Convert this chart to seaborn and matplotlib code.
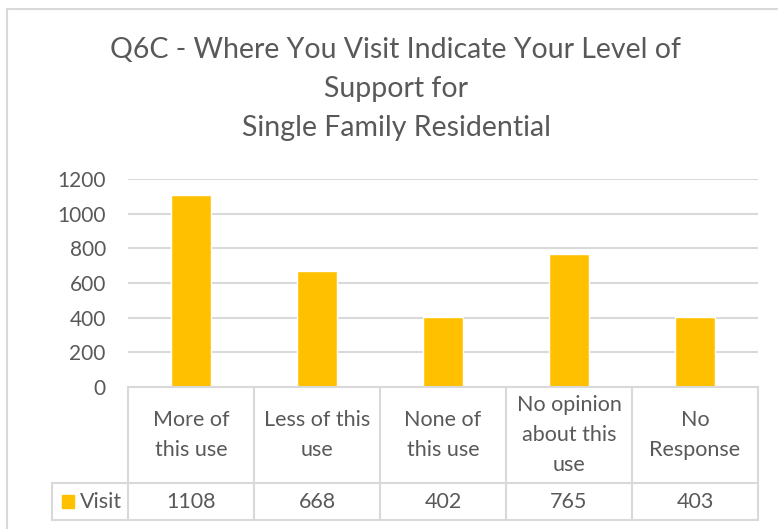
import matplotlib.pyplot as plt
import seaborn as sns
import pandas as pd
from matplotlib.lines import Line2D
from matplotlib.patches import Rectangle

categories = ['More of\nthis use', 'Less of this\nuse', 'None of\nthis use',
              'No opinion\nabout this\nuse', 'No\nResponse']
visit = [1108, 668, 402, 765, 403]
series_name = 'Visit'
yticks = [0, 200, 400, 600, 800, 1000, 1200]

BAR = '#FFC000'
GRID = '#D9D9D9'
TEXT = '#595959'
W, H = 778, 529

sns.set_theme(style='white')
plt.rcParams['font.family'] = ['Lato', 'DejaVu Sans']

df = pd.DataFrame({'cat': categories, 'value': visit})

fig = plt.figure(figsize=(W / 100, H / 100), dpi=100)
ax = fig.add_axes([128 / W, 1 - 387 / H, 630 / W, 208 / H])
sns.barplot(data=df, x='cat', y='value', color=BAR, width=0.32,
            saturation=1, ax=ax)
ax.set_ylim(0, 1200)
ax.set_xlim(-0.5, len(categories) - 0.5)
ax.set_yticks(yticks)
ax.set_yticklabels([str(t) for t in yticks], fontsize=15, color=TEXT)
ax.tick_params(axis='y', length=0, pad=16)
ax.set_xticks([])
ax.set_xlabel('')
ax.set_ylabel('')
ax.yaxis.grid(True, color=GRID, linewidth=1.5)
ax.set_axisbelow(True)
for s in ax.spines.values():
    s.set_visible(False)

# data table below the plot, in axes-x / figure-y coordinates
trans = ax.get_xaxis_transform()
def fy(py):
    # pixel row -> axes y
    return (387 - py) / 208

lw = 1.5
n = len(categories)
for i in range(n + 1):
    x = i - 0.5
    ax.add_line(Line2D([x, x], [fy(387), fy(520)], transform=trans,
                       color=GRID, lw=lw, clip_on=False))
ax.add_line(Line2D([-0.5, n - 0.5], [fy(387), fy(387)], transform=trans,
                   color=GRID, lw=lw, clip_on=False))
# left edge of legend cell at pixel x=52
x_left = -0.5 - (128 - 52) / 126
for py in (483, 520):
    ax.add_line(Line2D([x_left, n - 0.5], [fy(py), fy(py)], transform=trans,
                       color=GRID, lw=lw, clip_on=False))
ax.add_line(Line2D([x_left, x_left], [fy(483), fy(520)], transform=trans,
                   color=GRID, lw=lw, clip_on=False))

for i, (c, v) in enumerate(zip(categories, visit)):
    ax.text(i, fy(435), c, transform=trans, ha='center', va='center',
            fontsize=15.5, color=TEXT, linespacing=1.6, clip_on=False)
    ax.text(i, fy(502), str(v), transform=trans, ha='center', va='center',
            fontsize=15.5, color=TEXT, clip_on=False)

# legend key + series name
key_x = -0.5 - (128 - 62) / 126
ax.add_patch(Rectangle((key_x, fy(508)), 12 / 126, 13 / 208, transform=trans,
                       color=BAR, clip_on=False))
ax.text(-0.5 - (128 - 80) / 126, fy(502), series_name, transform=trans,
        ha='left', va='center', fontsize=15.5, color=TEXT, clip_on=False)

# chart area border
fig.add_artist(Line2D([7 / W, 7 / W], [0, 1 - 9 / H], color=GRID, lw=1.5))
fig.add_artist(Line2D([7 / W, 1], [1 - 9 / H, 1 - 9 / H], color=GRID, lw=1.5))

fig.text(396 / W, 1 - 89 / H,
         'Q6C - Where You Visit Indicate Your Level of\nSupport for\nSingle Family Residential',
         ha='center', va='center', fontsize=20.5, color=TEXT, linespacing=1.6)

fig.savefig('out.png', dpi=100)
